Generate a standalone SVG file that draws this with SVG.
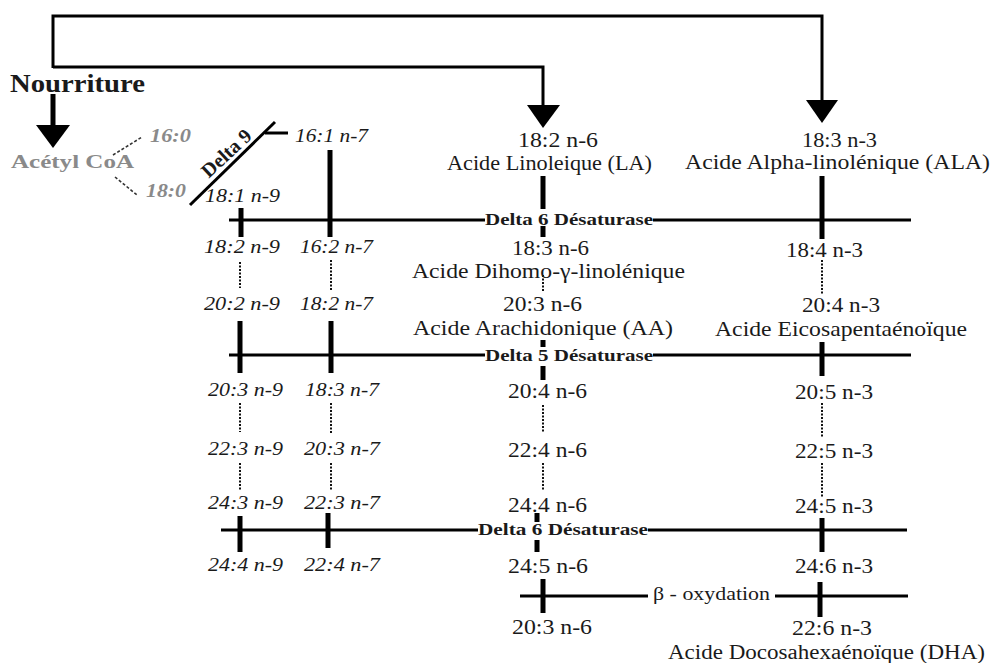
<svg xmlns="http://www.w3.org/2000/svg" width="998" height="663" viewBox="0 0 998 663" font-family="'Liberation Serif', 'Times New Roman', serif">
<style>
text{fill:#1a1a1a}
.r{font-size:21px}
.i{font-size:19.5px;font-style:italic}
.b{font-size:17px;font-weight:bold}
.g{fill:#8a8a8a;font-weight:bold}
.gi{fill:#8a8a8a;font-weight:bold;font-style:italic;font-size:18.5px}
.ln{stroke:#000;stroke-width:3;fill:none}
.tk{stroke:#000;stroke-width:5;fill:none}
.dt{stroke:#111;stroke-width:2;stroke-dasharray:2 1.5;fill:none}
.ds{stroke:#333;stroke-width:1.6;stroke-dasharray:3 2;fill:none}
.ah{fill:#000}
</style>
<rect width="998" height="663" fill="#fff"/>
<g id="connectors">
<path class="ln" d="M53,68 V16 H822 V101" stroke-width="4"/>
<path class="ln" d="M53,67 H543 V106" stroke-width="4"/>
<path class="tk" d="M53,94 V126"/>
<polygon class="ah" points="36,125 70,125 53,148"/>
<polygon class="ah" points="527,105 560,105 543,128"/>
<polygon class="ah" points="806,100 838,100 822,123"/>
<path class="ds" d="M113,155 L142,137 M115,177 L137,195"/>
<path class="ln" d="M190,205 L275,122" stroke-width="3.5"/>
<path class="ln" d="M265,133 H288" stroke-width="4"/>
<path class="ln" d="M229,220 H485 M653,220 H911"/>
<path class="ln" d="M229,355 H485 M653,355 H911"/>
<path class="ln" d="M221,530 H478 M648,530 H907"/>
<path class="ln" d="M520,596 H648 M775,596 H908"/>
<path class="tk" d="M241,208 V237 M330,150 V237 M543,176 V209 M543,226 V237 M822,176 V239"/>
<path class="tk" d="M240,321 V373 M331,321 V373 M543,340 V347 M543,366 V380 M822,342 V376"/>
<path class="tk" d="M240,516 V552 M328,513 V548 M537,513 V522 M537,540 V552 M822,518 V552"/>
<path class="tk" d="M543,579 V613 M820,582 V617"/>
<path class="dt" d="M240,262 V288 M240,403 V432 M240,463 V491"/>
<path class="dt" d="M331,260 V290 M331,403 V433 M331,463 V491"/>
<path class="dt" d="M543,275 V292 M543,405 V433 M543,463 V491"/>
<path class="dt" d="M822,260 V295 M822,403 V438 M822,463 V497"/>
</g>
<g id="nourriture"><text x="10" y="92" font-size="25" font-weight="bold" textLength="135" lengthAdjust="spacingAndGlyphs">Nourriture</text></g>
<g id="acetylcoa"><text class="g" x="11" y="168" font-size="19" textLength="123" lengthAdjust="spacingAndGlyphs">Acétyl CoA</text></g>
<g id="c16-0"><text class="gi" x="150" y="142" textLength="41" lengthAdjust="spacingAndGlyphs">16:0</text></g>
<g id="c18-0"><text class="gi" x="146" y="197" textLength="40" lengthAdjust="spacingAndGlyphs">18:0</text></g>
<g id="delta9"><text transform="translate(231,158) rotate(-43)" text-anchor="middle" style="font-size:20px;font-weight:bold">Delta 9</text></g>
<g id="n9">
<text class="i" x="205" y="202" textLength="75" lengthAdjust="spacingAndGlyphs">18:1 n-9</text>
<text class="i" x="204" y="253" textLength="76" lengthAdjust="spacingAndGlyphs">18:2 n-9</text>
<text class="i" x="204" y="310" textLength="76" lengthAdjust="spacingAndGlyphs">20:2 n-9</text>
<text class="i" x="208" y="396" textLength="75" lengthAdjust="spacingAndGlyphs">20:3 n-9</text>
<text class="i" x="208" y="455" textLength="75" lengthAdjust="spacingAndGlyphs">22:3 n-9</text>
<text class="i" x="208" y="509" textLength="75" lengthAdjust="spacingAndGlyphs">24:3 n-9</text>
<text class="i" x="208" y="571" textLength="75" lengthAdjust="spacingAndGlyphs">24:4 n-9</text>
</g>
<g id="n7">
<text class="i" x="295" y="142" textLength="73" lengthAdjust="spacingAndGlyphs">16:1 n-7</text>
<text class="i" x="300" y="253" textLength="73" lengthAdjust="spacingAndGlyphs">16:2 n-7</text>
<text class="i" x="300" y="310" textLength="73" lengthAdjust="spacingAndGlyphs">18:2 n-7</text>
<text class="i" x="305" y="396" textLength="74" lengthAdjust="spacingAndGlyphs">18:3 n-7</text>
<text class="i" x="304" y="455" textLength="76" lengthAdjust="spacingAndGlyphs">20:3 n-7</text>
<text class="i" x="304" y="509" textLength="76" lengthAdjust="spacingAndGlyphs">22:3 n-7</text>
<text class="i" x="304" y="571" textLength="76" lengthAdjust="spacingAndGlyphs">22:4 n-7</text>
</g>
<g id="n6">
<text class="r" x="518" y="147" textLength="80" lengthAdjust="spacingAndGlyphs">18:2 n-6</text>
<text class="r" x="447" y="170" textLength="205" lengthAdjust="spacingAndGlyphs">Acide Linoleique (LA)</text>
<text class="r" x="512" y="255" textLength="77" lengthAdjust="spacingAndGlyphs">18:3 n-6</text>
<text class="r" x="412" y="278" textLength="273" lengthAdjust="spacingAndGlyphs">Acide Dihomo-γ-linolénique</text>
<text class="r" x="503" y="311" textLength="79" lengthAdjust="spacingAndGlyphs">20:3 n-6</text>
<text class="r" x="413" y="335" textLength="260" lengthAdjust="spacingAndGlyphs">Acide Arachidonique (AA)</text>
<text class="r" x="508" y="398" textLength="79" lengthAdjust="spacingAndGlyphs">20:4 n-6</text>
<text class="r" x="508" y="457" textLength="79" lengthAdjust="spacingAndGlyphs">22:4 n-6</text>
<text class="r" x="508" y="512" textLength="79" lengthAdjust="spacingAndGlyphs">24:4 n-6</text>
<text class="r" x="508" y="573" textLength="80" lengthAdjust="spacingAndGlyphs">24:5 n-6</text>
<text class="r" x="512" y="634" textLength="80" lengthAdjust="spacingAndGlyphs">20:3 n-6</text>
</g>
<g id="n3">
<text class="r" x="802" y="147" textLength="75" lengthAdjust="spacingAndGlyphs">18:3 n-3</text>
<text class="r" x="685" y="169" textLength="305" lengthAdjust="spacingAndGlyphs">Acide Alpha-linolénique (ALA)</text>
<text class="r" x="786" y="257" textLength="77" lengthAdjust="spacingAndGlyphs">18:4 n-3</text>
<text class="r" x="802" y="312" textLength="78" lengthAdjust="spacingAndGlyphs">20:4 n-3</text>
<text class="r" x="715" y="336" textLength="252" lengthAdjust="spacingAndGlyphs">Acide Eicosapentaénoïque</text>
<text class="r" x="795" y="399" textLength="78" lengthAdjust="spacingAndGlyphs">20:5 n-3</text>
<text class="r" x="795" y="458" textLength="78" lengthAdjust="spacingAndGlyphs">22:5 n-3</text>
<text class="r" x="795" y="513" textLength="78" lengthAdjust="spacingAndGlyphs">24:5 n-3</text>
<text class="r" x="795" y="573" textLength="78" lengthAdjust="spacingAndGlyphs">24:6 n-3</text>
<text class="r" x="792" y="635" textLength="80" lengthAdjust="spacingAndGlyphs">22:6 n-3</text>
<text x="668" y="659" style="font-size:20px" textLength="317" lengthAdjust="spacingAndGlyphs">Acide Docosahexaénoïque (DHA)</text>
</g>
<g id="enzymes">
<text class="b" x="485" y="225" textLength="168" lengthAdjust="spacingAndGlyphs">Delta 6 Désaturase</text>
<text class="b" x="485" y="361" textLength="168" lengthAdjust="spacingAndGlyphs">Delta 5 Désaturase</text>
<text class="b" x="478" y="535" textLength="170" lengthAdjust="spacingAndGlyphs">Delta 6 Désaturase</text>
<text x="653" y="600" style="font-size:18.5px" textLength="117" lengthAdjust="spacingAndGlyphs">β - oxydation</text>
</g>
</svg>
